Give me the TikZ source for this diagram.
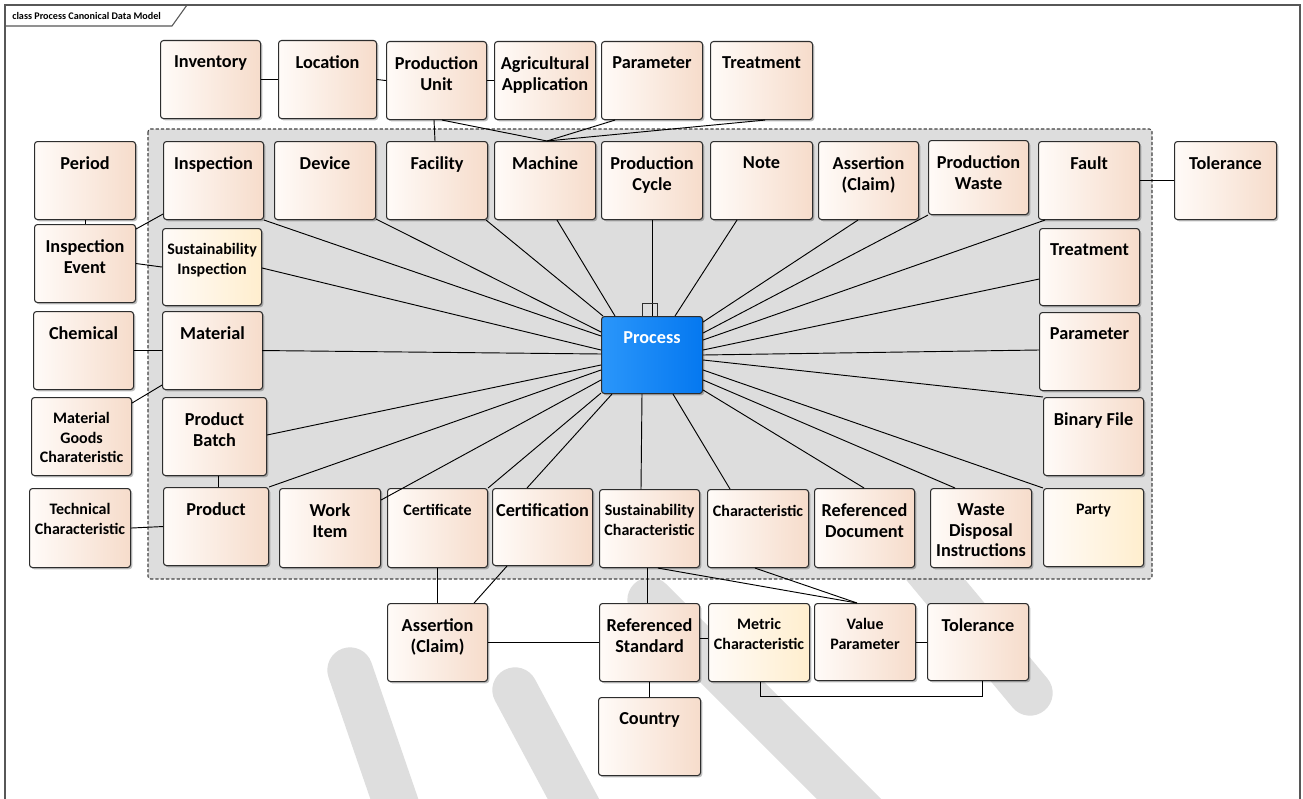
\documentclass[tikz,border=0pt]{standalone}
\usepackage{fontspec}
\setmainfont{Carlito}
\usetikzlibrary{calc,shadows}
\definecolor{peachR}{RGB}{246,220,203}
\definecolor{peachL}{RGB}{255,251,248}
\definecolor{yellowR}{RGB}{255,238,206}
\definecolor{panelgrey}{RGB}{221,221,221}
\definecolor{markgrey}{RGB}{222,222,222}
\definecolor{edgegrey}{RGB}{45,45,45}
\definecolor{procL}{RGB}{42,150,250}
\definecolor{procR}{RGB}{5,120,240}
\tikzset{
  ebox/.style={draw=edgegrey,line width=0.8pt,rounded corners=2.2pt,inner sep=0pt,
    left color=peachL,right color=peachR,
    drop shadow={shadow xshift=1.3pt,shadow yshift=-1.3pt,opacity=0.25,fill=black}},
  yellowbox/.style={left color=peachL,right color=yellowR},
  procbox/.style={left color=procL,right color=procR,draw=edgegrey},
  big/.style={font=\fontsize{13.7}{15.4}\selectfont\bfseries,align=center,inner sep=0pt},
  small/.style={font=\fontsize{12}{14.3}\selectfont\bfseries,align=center,inner sep=0pt},
  white text/.style={text=white},
  link/.style={draw=black,line width=0.7pt},
  wmark/.style={markgrey,line width=34pt,line cap=round},
}
% \ent[box style]{name}{x1}{y1}{x2}{y2}{text style}{text}
\newcommand\ent[8][]{%
  \node[ebox,#1,minimum width={(#5-#3)*0.75pt},minimum height={(#6-#4)*0.75pt},anchor=north west] (#2) at (#3,#4) {};
  \node[#7,anchor=north] (#2-t) at ($(#2.north)+(0,15.5)$) {#8};
}
\begin{document}
\begin{tikzpicture}[x=0.75pt,y=-0.75pt]
\useasboundingbox (0,0) rectangle (1303,799);
\clip (0,0) rectangle (1303,799);
\fill[white] (0,0) rectangle (1303,799);

% faint background lettering
\draw[wmark] (350,670) -- (405,830);
\draw[wmark] (515,690) -- (590,830);
\draw[wmark] (650,600) -- (880,830);
\draw[wmark] (915,555) -- (1030,693);

% diagram frame and its name tab
\draw[edgegrey!80,line width=0.8pt] (5,5) rectangle (1300,830);
\draw[edgegrey!80,line width=0.8pt] (5,26) -- (172,26) -- (187,5);
\node[font=\fontsize{7.6}{9}\selectfont\bfseries,anchor=west,inner sep=0pt] (title) at (12,16) {class Process Canonical Data Model};

% package area
\draw[fill=panelgrey,draw=edgegrey!90,line width=0.8pt,dash pattern=on 2.5pt off 1.5pt,rounded corners=2pt] (148,129) rectangle (1152,579);

% entities outside the package
\ent{inv}{160}{40}{260}{118}{big}{Inventory}
\ent{loc}{278}{40}{376}{118}{big}{Location}
\ent{pu}{386}{41}{486}{119}{big}{Production\\Unit}
\ent{agr}{494}{41}{595}{119}{big}{Agricultural\\Application}
\ent{tpar}{601}{41}{702}{119}{big}{Parameter}
\ent{ttrt}{710}{41}{812}{119}{big}{Treatment}
\ent{per}{34}{141}{135}{219}{big}{Period}
\ent{iev}{34}{224}{135}{302}{big}{Inspection\\Event}
\ent{chem}{33}{311}{133}{389}{big}{Chemical}
\ent{mgc}{31}{397}{131}{475}{small}{Material\\Goods\\Charateristic}
\ent{tch}{29}{488}{130}{567}{small}{Technical\\Characteristic}
\ent{tol}{1174}{141}{1276}{219}{big}{Tolerance}
\ent{basr}{387}{603}{487}{681}{big}{Assertion\\(Claim)}
\ent{rstd}{599}{603}{699}{681}{big}{Referenced\\Standard}
\ent[yellowbox]{mc}{708}{603}{809}{681}{small}{Metric\\Characteristic}
\ent{vp}{814}{603}{915}{680}{small}{Value\\Parameter}
\ent{btol}{927}{603}{1028}{680}{big}{Tolerance}
\ent{ctry}{598}{697}{700}{775}{big}{Country}

% entities inside the package
\ent{insp}{163}{141}{263}{219}{big}{Inspection}
\ent{dev}{274}{141}{375}{219}{big}{Device}
\ent{fac}{386}{141}{487}{219}{big}{Facility}
\ent{mach}{494}{141}{595}{219}{big}{Machine}
\ent{pcyc}{601}{141}{702}{219}{big}{Production\\Cycle}
\ent{note}{710}{141}{812}{219}{big}{Note}
\ent{asr}{818}{141}{918}{219}{big}{Assertion\\(Claim)}
\ent{pw}{928}{140}{1028}{214}{big}{Production\\Waste}
\ent{fault}{1038}{141}{1139}{219}{big}{Fault}
\ent[yellowbox]{sinsp}{162}{228}{261}{305}{small}{Sustainability\\Inspection}
\ent{mat}{162}{311}{262}{389}{big}{Material}
\ent{pb}{162}{397}{266}{475}{big}{Product\\Batch}
\ent{prod}{163}{487}{268}{565}{big}{Product}
\ent{wi}{279}{488}{380}{567}{big}{Work\\Item}
\ent{cert}{387}{488}{487}{567}{small}{Certificate}
\ent{certn}{492}{488}{592}{565}{big}{Certification}
\ent{sc}{599}{489}{699}{567}{small}{Sustainability\\Characteristic}
\ent{char}{707}{489}{808}{567}{small}{Characteristic}
\ent{rdoc}{814}{488}{914}{567}{big}{Referenced\\Document}
\ent{wdi}{930}{488}{1031}{567}{big}{Waste\\Disposal\\Instructions}
\ent[yellowbox]{party}{1043}{488}{1143}{566}{small}{Party}
\ent{trt}{1039}{228}{1139}{305}{big}{Treatment}
\ent{par}{1039}{312}{1139}{390}{big}{Parameter}
\ent{bin}{1043}{397}{1143}{475}{big}{Binary File}
\ent[procbox]{proc}{601}{316}{702}{393}{big,white text}{Process}

% associations between the surrounding entities
\path[link] (inv.east) -- (loc.west);
\path[link] (loc.east) -- (pu.west);
\path[link] (pu.east) -- (agr.west);
\path[link] ($(pu.south west)+(48,0)$) -- ($(fac.north west)+(49,0)$);
\path[link] ($(pu.south west)+(56,0)$) -- ($(mach.north west)+(53,0)$);
\path[link] ($(tpar.south west)+(14,0)$) -- ($(mach.north west)+(53,0)$);
\path[link] ($(ttrt.south west)+(55,0)$) -- ($(mach.north west)+(53,0)$);
\path[link] (per.south) -- (iev.north);
\path[link] ($(iev.north east)+(0,5)$) -- ($(insp.south west)+(0,-6)$);
\path[link] (iev.east) -- (sinsp.west);
\path[link] (chem.east) -- (mat.west);
\path[link] ($(mgc.north east)+(0,6)$) -- ($(mat.south west)+(0,-5)$);
\path[link] ($(pb.south west)+(56,0)$) -- ($(prod.north west)+(55,0)$);
\path[link] (tch.east) -- (prod.west);
\path[link] (fault.east) -- (tol.west);
\path[link] (cert.south) -- (basr.north);
\path[link] ($(certn.south west)+(15,0)$) -- ($(basr.north east)+(-14,0)$);
\path[link] ($(sc.south west)+(48,0)$) -- ($(rstd.north west)+(48,0)$);
\path[link] ($(sc.south west)+(59,0)$) -- ($(vp.north west)+(43,0)$);
\path[link] ($(char.south west)+(48,0)$) -- ($(vp.north west)+(43,0)$);
\path[link] (basr.east) -- (rstd.west);
\path[link] ($(rstd.east)+(0,-4)$) -- ($(mc.west)+(0,-4)$);
\path[link] (vp.east) -- (btol.west);
\path[link] ($(mc.south west)+(52,0)$) -- ++(0,14) -| ($(btol.south west)+(55,0)$);
\path[link] (rstd.south) -- (ctry.north);

% associations of Process
\path[link] (insp.south east) -- ($(proc.north west)+(0,20)$);
\path[link] ($(dev.south east)+(0,-1)$) -- ($(proc.north west)+(0,16)$);
\path[link] ($(fac.south east)+(-2,0)$) -- ($(proc.north west)+(2,0)$);
\path[link] ($(mach.south west)+(63,0)$) -- ($(proc.north west)+(14,0)$);
\path[link] ($(pcyc.south west)+(51,0)$) -- ($(proc.north west)+(51,0)$);
\path[link] ($(note.south west)+(27,0)$) -- ($(proc.north west)+(74,0)$);
\path[link] ($(asr.south west)+(40,0)$) -- ($(proc.north east)+(0,6)$);
\path[link] (pw.south west) -- ($(proc.north east)+(0,17)$);
\path[link] ($(fault.south west)+(7,0)$) -- ($(proc.north east)+(0,24)$);
\path[link] ($(trt.south west)+(0,-27)$) -- ($(proc.north east)+(0,34)$);
\path[link] ($(par.north west)+(0,38)$) -- ($(proc.north east)+(0,39)$);
\path[link] (bin.north west) -- ($(proc.north east)+(0,44)$);
\path[link] (party.north west) -- ($(proc.north east)+(0,54)$);
\path[link] ($(wdi.north west)+(25,0)$) -- ($(proc.north east)+(0,64)$);
\path[link] ($(rdoc.north west)+(50,0)$) -- ($(proc.north east)+(0,74)$);
\path[link] ($(char.north west)+(23,0)$) -- ($(proc.south west)+(72,0)$);
\path[link] ($(sc.north west)+(42,0)$) -- ($(proc.south west)+(41,0)$);
\path[link] ($(certn.north west)+(35,0)$) -- ($(proc.south west)+(11,0)$);
\path[link] (cert.north east) -- ($(proc.south west)+(0,-1)$);
\path[link] ($(wi.north east)+(0,12)$) -- ($(proc.north west)+(0,64)$);
\path[link] (prod.north east) -- ($(proc.north west)+(0,54)$);
\path[link] ($(pb.north east)+(0,38)$) -- ($(proc.north west)+(0,49)$);
\path[link] ($(mat.west)+(100,0)$) -- ($(proc.north west)+(0,38)$);
\path[link] ($(sinsp.north east)+(0,40)$) -- ($(proc.north west)+(0,34)$);

% small marker box on top of Process
\draw[link,edgegrey] ($(proc.north west)+(41,-13)$) rectangle ($(proc.north west)+(56,0)$);
\end{tikzpicture}
\end{document}
